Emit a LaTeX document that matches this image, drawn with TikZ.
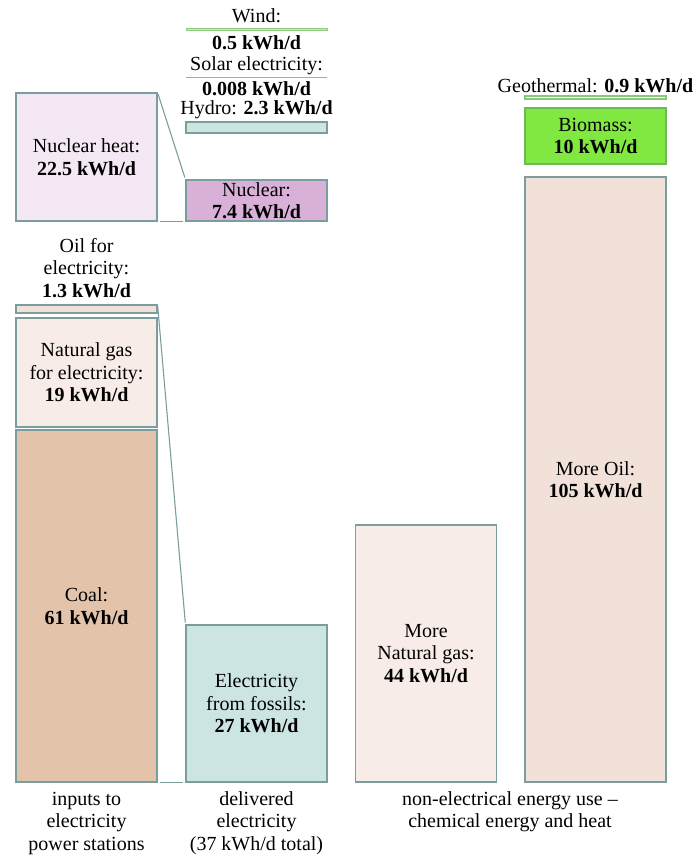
\documentclass[tikz,border=0pt]{standalone}
\usepackage{fontspec}
\setmainfont{Liberation Serif}
\definecolor{edgecol}{HTML}{7A9E9E}
\definecolor{coalcol}{HTML}{E3C3AA}
\definecolor{gascol}{HTML}{F8ECE8}
\definecolor{oilcol}{HTML}{F2E1D8}
\definecolor{heatcol}{HTML}{F4E8F4}
\definecolor{nuclcol}{HTML}{D8B0D8}
\definecolor{elcol}{HTML}{CCE5E3}
\definecolor{biocol}{HTML}{80E840}
\definecolor{greencol}{HTML}{6DB85A}
\tikzset{
  bar/.style={draw=edgecol, line width=1.1pt, rectangle, inner sep=0pt, minimum width=141pt, align=center, font=\fontsize{20}{22.5}\selectfont},
  lbl/.style={inner sep=0pt, align=center, font=\fontsize{20}{22.5}\selectfont},
  link/.style={draw=edgecol, line width=1.1pt, shorten <=2pt, shorten >=2pt}
}
\begin{document}
\begin{tikzpicture}[x=1pt,y=-1pt]
\useasboundingbox (0,0) rectangle (698,862);

% inputs to power stations
\node[bar, fill=heatcol, minimum height=128pt] (nucheat) at (86.5,157) {Nuclear heat:\\\textbf{22.5 kWh/d}};
\node[bar, fill=oilcol, minimum height=8pt] (oil) at (86.5,309) {};
\node[bar, fill=gascol, minimum height=109pt] (gas) at (86.5,372.5) {Natural gas\\for electricity:\\\textbf{19 kWh/d}};
\node[bar, fill=coalcol, minimum height=352pt] (coal) at (86.5,606) {Coal:\\\textbf{61 kWh/d}};
\node[lbl] (oillbl) at (86.5,268) {Oil for\\electricity:\\\textbf{1.3 kWh/d}};

% delivered electricity
\node[bar, draw=greencol!75, fill=greencol!35, line width=0.9pt, minimum height=2pt] (wind) at (256.5,29) {};
\node[bar, draw=edgecol!80, line width=0.9pt, minimum height=0pt] (solar) at (256.5,77.5) {};
\node[bar, fill=elcol, minimum height=11pt] (hydro) at (256.5,127.5) {};
\node[bar, fill=nuclcol, minimum height=41pt] (nuclear) at (256.5,200.5) {Nuclear:\\\textbf{7.4 kWh/d}};
\node[bar, fill=elcol, minimum height=157pt] (fossil) at (256.5,703.5) {Electricity\\from fossils:\\\textbf{27 kWh/d}};
\node[lbl] (windlbl) at (256.5,16) {Wind:};
\node[lbl] (windval) at (256.5,43) {\textbf{0.5 kWh/d}};
\node[lbl] (solarlbl) at (256.5,66) {Solar electricity:};
\node[lbl] (solarval) at (256.5,89) {\textbf{0.008 kWh/d}};
\node[lbl] (hydrolbl) at (256.5,110) {Hydro: \textbf{2.3 kWh/d}};

% non-electrical use
\node[bar, fill=gascol, minimum height=257pt] (moregas) at (426,653.5) {More\\Natural gas:\\\textbf{44 kWh/d}};
\node[bar, draw=greencol!80, fill=white, minimum height=3pt] (geo) at (595.5,97.5) {};
\node[bar, draw=greencol, fill=biocol, minimum height=56pt] (biomass) at (595.5,136) {Biomass:\\\textbf{10 kWh/d}};
\node[bar, fill=oilcol, minimum height=605pt] (moreoil) at (595.5,479.5) {More Oil:\\\textbf{105 kWh/d}};
\node[lbl] (geolbl) at (595.5,86) {Geothermal: \textbf{0.9 kWh/d}};

\path[link] (nucheat.north east) -- (nuclear.north west);
\path[link] (nucheat.south east) -- (nuclear.south west);
\path[link] (oil.north east) -- (fossil.north west);
\path[link] (coal.south east) -- (fossil.south west);

\node[lbl] (inputs) at (86.5,823) {inputs to\\electricity\\power stations};
\node[lbl] (delivered) at (256.5,823) {delivered\\electricity\\(37 kWh/d total)};
\node[lbl] (nonel) at (510,811.5) {non-electrical energy use –\\chemical energy and heat};
\end{tikzpicture}
\end{document}
